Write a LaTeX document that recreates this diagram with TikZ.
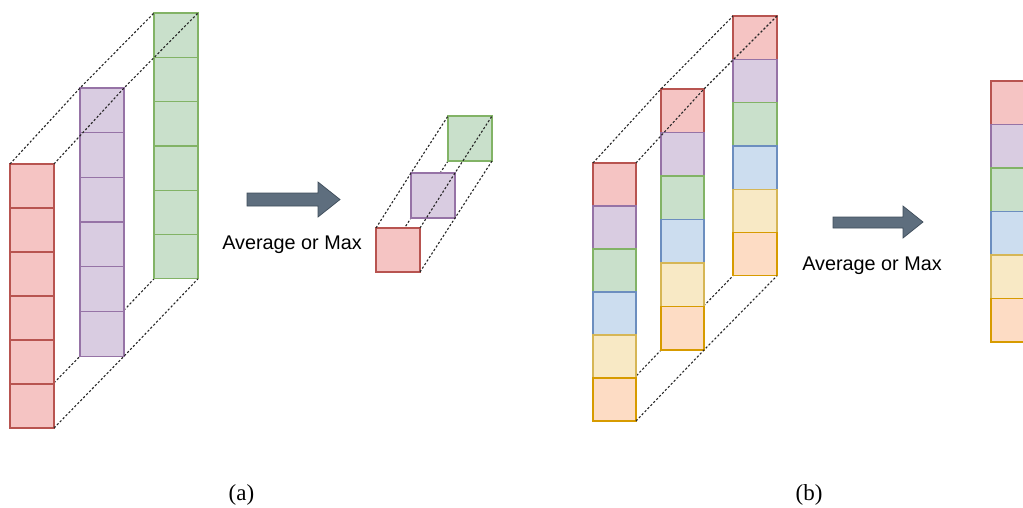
\documentclass[tikz,border=0pt]{standalone}
\usepackage{fontspec}
\setmainfont{Liberation Serif}
\newfontfamily\opsans{Liberation Sans}
\usetikzlibrary{backgrounds}

% cell colours: fill (F) and border (D)
\definecolor{redF}{HTML}{F5C4C3}    \definecolor{redD}{HTML}{B85450}
\definecolor{purpleF}{HTML}{D9CCE1} \definecolor{purpleD}{HTML}{9673A6}
\definecolor{greenF}{HTML}{C9E0CB}  \definecolor{greenD}{HTML}{82B366}
\definecolor{blueF}{HTML}{CCDDEF}   \definecolor{blueD}{HTML}{6C8EBF}
\definecolor{yellowF}{HTML}{F8E9C5} \definecolor{yellowD}{HTML}{D6B656}
\definecolor{orangeF}{HTML}{FDDCC4} \definecolor{orangeD}{HTML}{D79B00}
\definecolor{arrowF}{HTML}{5E6E7E}  \definecolor{arrowD}{HTML}{3E4C5A}

% a vertical stack of cells: name, x, top y, width, cell height, colours
\newcommand\cellcolumn[6]{%
  \foreach \c [count=\i] in {#6}
    \node[cell=\c, minimum width=#4, minimum height=#5 pt] (#1\i) at (#2, {#3+(\i-1)*#5}) {};%
}
% guide lines joining the corners of three stacks (last cell index #4)
\newcommand\frontguides[4]{%
  \draw[guide] (#11.north west) -- (#21.north west) -- (#31.north west);
  \draw[guide] (#11.north east) -- (#21.north east) -- (#31.north east);
  \draw[guide] (#1#4.south east) -- (#2#4.south east) -- (#3#4.south east);
  \begin{pgfonlayer}{background}
    \draw[guide] (#1#4.south west) -- (#2#4.south west) -- (#3#4.south west);
  \end{pgfonlayer}%
}

\begin{document}
\begin{tikzpicture}[x=1pt, y=-1pt,
  cell/.style={draw=#1D, fill=#1F, line width=1.3pt, inner sep=0pt,
               outer sep=0pt, anchor=north west},
  guide/.style={draw=black!85, line width=1.1pt, dash pattern=on 2.2pt off 2pt},
  blockarrow/.style={fill=arrowF, draw=arrowD, line width=0.7pt},
  oplabel/.style={font=\opsans\fontsize{19.8}{23}\selectfont, anchor=base, inner sep=0pt},
  caption/.style={font=\fontsize{23}{27}\selectfont, anchor=base, inner sep=0pt}]

\clip (0,0) rectangle (1023,507);
\useasboundingbox (0,0) rectangle (1023,507);

% ---------- (a) ----------
\cellcolumn{ar}{10}{164}{44pt}{44}{red,red,red,red,red,red}
\cellcolumn{ap}{80}{88}{44pt}{44.7}{purple,purple,purple,purple,purple,purple}
\cellcolumn{ag}{154}{13}{44pt}{44.3}{green,green,green,green,green,green}
\frontguides{ar}{ap}{ag}{6}

\fill[blockarrow] (247,193) -- (318,193) -- (318,182) -- (340,199.5)
  -- (318,217) -- (318,206) -- (247,206) -- cycle;
\node[oplabel] (opa) at (292,249) {Average or Max};

\cellcolumn{sr}{376}{228}{44pt}{44}{red}
\cellcolumn{sp}{411}{173}{44pt}{45}{purple}
\cellcolumn{sg}{448}{116}{44pt}{45}{green}
\frontguides{sr}{sp}{sg}{1}

\node[caption] (capa) at (241.5,500) {(a)};

% ---------- (b) ----------
\cellcolumn{bl}{593}{163}{43pt}{43}{red,purple,green,blue,yellow,orange}
\cellcolumn{bm}{661}{89}{43pt}{43.5}{red,purple,green,blue,yellow,orange}
\cellcolumn{br}{733}{16}{44pt}{43.3}{red,purple,green,blue,yellow,orange}
\frontguides{bl}{bm}{br}{6}

\fill[blockarrow] (833,217) -- (903,217) -- (903,206) -- (923,222)
  -- (903,238) -- (903,228) -- (833,228) -- cycle;
\node[oplabel] (opb) at (872,270) {Average or Max};

\cellcolumn{bo}{991}{81}{44pt}{43.5}{red,purple,green,blue,yellow,orange}

\node[caption] (capb) at (809,500) {(b)};
\end{tikzpicture}
\end{document}
